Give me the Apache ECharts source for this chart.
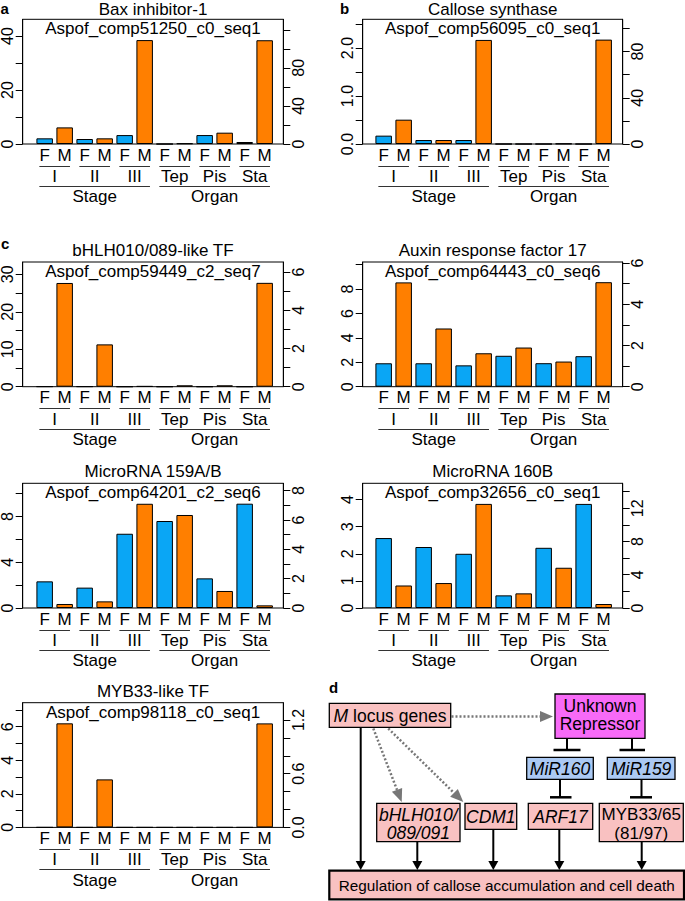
<!DOCTYPE html>
<html><head><meta charset="utf-8">
<script src="https://cdn.jsdelivr.net/npm/echarts@6.0.0/dist/echarts.min.js"></script>
<style>html,body{margin:0;padding:0;background:#fff}#c{width:685px;height:901px}</style>
</head><body><div id="c"></div>
<script>
// ---------- data ----------
const categories = ['F','M','F','M','F','M','F','M','F','M','F','M'];
const groups = ['I','II','III','Tep','Pis','Sta'];
const sections = ['Stage','Organ'];

const baxStage = [2.1, 6.15, 1.85, 2.1, 3.3, 38.5];
const baxOrgan = [0, 0.7, 9.4, 11.9, 2.1, 109];
const callStage = [0.174, 0.507, 0.083, 0.083, 0.083, 2.17];
const callOrgan = [0, 0, 0, 0.3, 0, 90.4];
const bhlhStage = [0.05, 27.7, 0.05, 11.3, 0, 0.15];
const bhlhOrgan = [0, 0.07, 0, 0.07, 0, 5.43];
const arfStage = [1.92, 8.55, 1.92, 4.77, 1.75, 2.74];
const arfOrgan = [1.5, 1.9, 1.14, 1.22, 1.48, 5.07];
const mir159Stage = [2.33, 0.35, 1.78, 0.58, 6.49, 9.11];
const mir159Organ = [5.93, 6.34, 2.02, 1.16, 7.11, 0.18];
const mir160Stage = [2.58, 0.83, 2.25, 0.92, 2.0, 3.84];
const mir160Organ = [1.52, 1.76, 7.24, 4.84, 12.52, 0.48];
const mybStage = [0, 6.2, 0, 2.86, 0, 0];
const mybOrgan = [0, 0, 0, 0, 0, 1.162];

// tick labels
const baxLeftLabels = ['0','20','40'], baxRightLabels = ['0','40','80'];
const callLeftLabels = ['0.0','1.0','2.0'], callRightLabels = ['0','40','80'];
const bhlhLeftLabels = ['0','10','20','30'], bhlhRightLabels = ['0','2','4','6'];
const arfLeftLabels = ['0','2','4','6','8'], arfRightLabels = ['0','2','4','6'];
const mir159LeftLabels = ['0','4','8'], mir159RightLabels = ['0','2','4','6','8'];
const mir160LeftLabels = ['0','1','2','3','4'], mir160RightLabels = ['0','4','8','12'];
const mybLeftLabels = ['0','2','4','6'], mybRightLabels = ['0.0','0.6','1.2'];

const panels = [
  {title:'Bax inhibitor-1', gene:'Aspof_comp51250_c0_seq1', stage:baxStage, organ:baxOrgan, lMax:46.2, lStep:10, lLab:baxLeftLabels, rMax:131, rStep:20, rLab:baxRightLabels},
  {title:'Callose synthase', gene:'Aspof_comp56095_c0_seq1', stage:callStage, organ:callOrgan, lMax:2.6, lStep:0.5, lLab:callLeftLabels, rMax:108, rStep:20, rLab:callRightLabels},
  {title:'bHLH010/089-like TF', gene:'Aspof_comp59449_c2_seq7', stage:bhlhStage, organ:bhlhOrgan, lMax:33.3, lStep:5, lLab:bhlhLeftLabels, rMax:6.52, rStep:1, rLab:bhlhRightLabels},
  {title:'Auxin response factor 17', gene:'Aspof_comp64443_c0_seq6', stage:arfStage, organ:arfOrgan, lMax:10.22, lStep:2, lLab:arfLeftLabels, rMax:6.05, rStep:1, rLab:arfRightLabels},
  {title:'MicroRNA 159A/B', gene:'Aspof_comp64201_c2_seq6', stage:mir159Stage, organ:mir159Organ, lMax:10.9, lStep:2, lLab:mir159LeftLabels, rMax:8.5, rStep:1, rLab:mir159RightLabels},
  {title:'MicroRNA 160B', gene:'Aspof_comp32656_c0_seq1', stage:mir160Stage, organ:mir160Organ, lMax:4.6, lStep:1, lLab:mir160LeftLabels, rMax:15, rStep:2, rLab:mir160RightLabels},
  {title:'MYB33-like TF', gene:'Aspof_comp98118_c0_seq1', stage:mybStage, organ:mybOrgan, lMax:7.43, lStep:1, lLab:mybLeftLabels, rMax:1.393, rStep:0.2, rLab:mybRightLabels}
];

// ---------- layout / style ----------
const FONT = '"Liberation Sans", Arial, Helvetica, sans-serif';
const BLUE = '#0aa6f5', ORANGE = '#ff7f00';
const cols = [{l:22.7, r:283.3, barL:34.67}, {l:362.7, r:622.7, barL:373.67}];
const rowTops = [19.3, 262, 483.3, 702.7];
const BOX_H = 124.7;
const place = [[0,0],[1,0],[0,1],[1,1],[0,2],[1,2],[0,3]];

const grid = [], xAxis = [], yAxis = [], series = [], elements = [];

function frameY(g, pos, max, step, labels) {
  const ticks = [];
  for (let k = 0; k * step <= max + 1e-9; k++) ticks.push(+(k * step).toFixed(6));
  const nums = labels.map(Number);
  return {
    gridIndex: g, type: 'value', position: pos, min: 0, max: max,
    axisLine: {show: true, onZero: false, lineStyle: {color: '#000', width: 1}},
    axisTick: {show: true, inside: false, length: 7, customValues: ticks, lineStyle: {color: '#000', width: 1}},
    axisLabel: {show: true, customValues: nums, rotate: 90, margin: 7, fontSize: 16, color: '#000', fontFamily: FONT,
      formatter: v => { const k = nums.findIndex(n => Math.abs(n - v) < 1e-6); return k >= 0 ? labels[k] : ''; }},
    splitLine: {show: false}, splitArea: {show: false}
  };
}
function catAxis(g, data, margin) {
  return {gridIndex: g, type: 'category', data: data, position: 'bottom',
    axisLine: {show: false, onZero: false}, axisTick: {show: false}, splitLine: {show: false},
    axisLabel: {interval: 0, margin: margin, fontSize: 17, color: '#000', fontFamily: FONT}};
}

const spans = [];
groups.forEach((g, i) => spans.push([2 * i, 1, 2 * i + 1]));
sections.forEach((s, i) => spans.push([6 * i, 2, 6 * i + 5]));

panels.forEach((p, i) => {
  const c = cols[place[i][0]], top = rowTops[place[i][1]];
  const gF = grid.length;
  grid.push({left: c.l, top: top, width: c.r - c.l, height: BOX_H, show: true, borderColor: '#000', borderWidth: 1, backgroundColor: 'transparent', outerBoundsMode: 'none'});
  const gB = grid.length;
  grid.push({left: c.barL, top: top, width: 240, height: BOX_H, show: false, outerBoundsMode: 'none'});
  xAxis.push({gridIndex: gF, type: 'value', show: false, min: 0, max: 1});
  yAxis.push(frameY(gF, 'left', p.lMax, p.lStep, p.lLab));
  yAxis.push(frameY(gF, 'right', p.rMax, p.rStep, p.rLab));
  const xB = xAxis.length;
  xAxis.push(catAxis(gB, categories, 2.5));
  xAxis.push(catAxis(gB, groups, 24));
  xAxis.push(catAxis(gB, sections, 44.2));
  const yB = yAxis.length;
  yAxis.push({gridIndex: gB, type: 'value', min: 0, max: p.lMax, show: false});
  yAxis.push({gridIndex: gB, type: 'value', min: 0, max: p.rMax, show: false, position: 'right'});
  const dash = ['-','-','-','-','-','-'];
  const barStyle = {color: q => (q.dataIndex % 2 ? ORANGE : BLUE), borderColor: '#000', borderWidth: 1};
  series.push({type: 'bar', xAxisIndex: xB, yAxisIndex: yB, data: p.stage.concat(dash), barWidth: 16.5, barGap: '-100%', itemStyle: barStyle, silent: true});
  series.push({type: 'bar', xAxisIndex: xB, yAxisIndex: yB + 1, data: dash.concat(p.organ), barWidth: 16.5, barGap: '-100%', itemStyle: barStyle, silent: true});
  series.push({type: 'custom', xAxisIndex: xB, yAxisIndex: yB, silent: true, clip: false, data: spans,
    renderItem: (params, api) => {
      const a = api.coord([api.value(0), 0]), b = api.coord([api.value(2), 0]);
      const y = Math.round(a[1] + (api.value(1) === 1 ? 21.5 : 42)) + 0.5;
      return {type: 'line', shape: {x1: a[0] - 5.3, y1: y, x2: b[0] + 5.3, y2: y}, style: {stroke: '#333', lineWidth: 1}};
    }});
  const cx = (c.l + c.r) / 2;
  const ty = Math.max(top - 11.5, 9.3);
  elements.push({type: 'text', x: cx, y: ty, style: {text: p.title, font: '17px ' + FONT, fill: '#000', align: 'center', verticalAlign: 'middle'}});
  elements.push({type: 'text', x: cx, y: top + 9.5, style: {text: p.gene, font: '17px ' + FONT, fill: '#000', align: 'center', verticalAlign: 'middle'}});
});

// panel letters
[['a', 0.5, 8], ['b', 340, 8.5], ['c', 1, 243.5], ['d', 329, 687]].forEach(t => {
  elements.push({type: 'text', x: t[1], y: t[2], style: {text: t[0], font: 'bold 15px ' + FONT, fill: '#000', align: 'left', verticalAlign: 'middle'}});
});

// ---------- panel d diagram ----------
const PINK = '#f9c1c1', MAG = '#f76af7', LBLUE = '#abc9f3', GRAY = '#777';
function box(x1, y1, x2, y2, fill, lw) {
  elements.push({type: 'rect', shape: {x: x1, y: y1, width: x2 - x1, height: y2 - y1}, style: {fill: fill, stroke: '#000', lineWidth: lw || 1.3}, z: 10});
}
function txt(x, y, text, size, extra) {
  const st = Object.assign({text: text, font: size + 'px ' + FONT, fill: '#000', align: 'center', verticalAlign: 'middle'}, extra || {});
  elements.push({type: 'text', x: x, y: y, style: st, z: 12});
}
function arrow(x1, y1, x2, y2, color, lw, dash, hl, hw) {
  const dx = x2 - x1, dy = y2 - y1, L = Math.hypot(dx, dy), ux = dx / L, uy = dy / L;
  const bx = x2 - ux * hl, by = y2 - uy * hl, px = -uy, py = ux;
  elements.push({type: 'line', shape: {x1: x1, y1: y1, x2: bx, y2: by}, style: {stroke: color, lineWidth: lw, lineDash: dash || null}, z: 9});
  elements.push({type: 'polygon', shape: {points: [[x2, y2], [bx + px * hw / 2, by + py * hw / 2], [bx - px * hw / 2, by - py * hw / 2]]}, style: {fill: color}, z: 9});
}
function tbar(x, y1, y2, bx1, bx2) {
  elements.push({type: 'line', shape: {x1: x, y1: y1, x2: x, y2: y2}, style: {stroke: '#000', lineWidth: 2}, z: 9});
  elements.push({type: 'line', shape: {x1: bx1, y1: y2, x2: bx2, y2: y2}, style: {stroke: '#000', lineWidth: 2.5}, z: 9});
}

box(329.3, 703.3, 450.7, 727.3, PINK);
txt(390, 715.5, '{i|M} locus genes', 17.5, {rich: {i: {fontStyle: 'italic', font: 'italic 17.5px ' + FONT}}});
box(555, 694, 645, 738.3, MAG);
txt(600, 705.5, 'Unknown', 17.5);
txt(600, 724, 'Repressor', 17.5);
box(526.7, 757.3, 593.3, 779.3, LBLUE);
txt(560, 768.5, 'MiR160', 17.5, {font: 'italic 17.5px ' + FONT});
box(607.3, 757.3, 675, 779.3, LBLUE);
txt(641.2, 768.5, 'MiR159', 17.5, {font: 'italic 17.5px ' + FONT});
box(376.7, 803.3, 460, 841.7, PINK);
txt(418.3, 814.5, 'bHLH010/', 17.5, {font: 'italic 17.5px ' + FONT});
txt(418.3, 833.3, '089/091', 17.5, {font: 'italic 17.5px ' + FONT});
box(465, 803.3, 516.7, 829.3, PINK);
txt(490.8, 816.5, 'CDM1', 17.5, {font: 'italic 17.5px ' + FONT});
box(528.3, 803.3, 592.7, 829.3, PINK);
txt(560.5, 816.5, 'ARF17', 17.5, {font: 'italic 17.5px ' + FONT});
box(599.3, 803.3, 683.3, 841.7, PINK);
txt(641.3, 814.5, 'MYB33/65', 17, {});
txt(641.3, 833.3, '(81/97)', 17, {});
box(329.3, 870.7, 684, 899.3, PINK, 2.2);
txt(506.7, 885.2, 'Regulation of callose accumulation and cell death', 15.3);

// black arrows
[[360.7, 727.3], [417.3, 841.7], [493.3, 829.3], [559.3, 829.3], [641.7, 841.7]].forEach(a => arrow(a[0], a[1], a[0], 870, '#000', 2, null, 9, 10));
// dotted gray arrows
arrow(451.5, 716.5, 553, 716.5, GRAY, 2.5, [2, 2], 13, 11);
arrow(373.3, 728.5, 401.7, 802, GRAY, 2.5, [2, 2], 13, 11);
arrow(388.3, 728.5, 463.3, 802, GRAY, 2.5, [2, 2], 13, 11);
// inhibition bars
tbar(567, 738.3, 750, 553.5, 580.5);
tbar(632, 738.3, 750, 619.5, 645);
tbar(560, 779.3, 797.3, 550, 571.5);
tbar(641.5, 779.3, 797.3, 630, 652);

const chart = echarts.init(document.getElementById('c'), null, {renderer: 'svg'});
chart.setOption({
  animation: false,
  backgroundColor: '#fff',
  textStyle: {fontFamily: FONT},
  grid: grid, xAxis: xAxis, yAxis: yAxis, series: series,
  graphic: {elements: elements}
});
</script>
</body></html>
